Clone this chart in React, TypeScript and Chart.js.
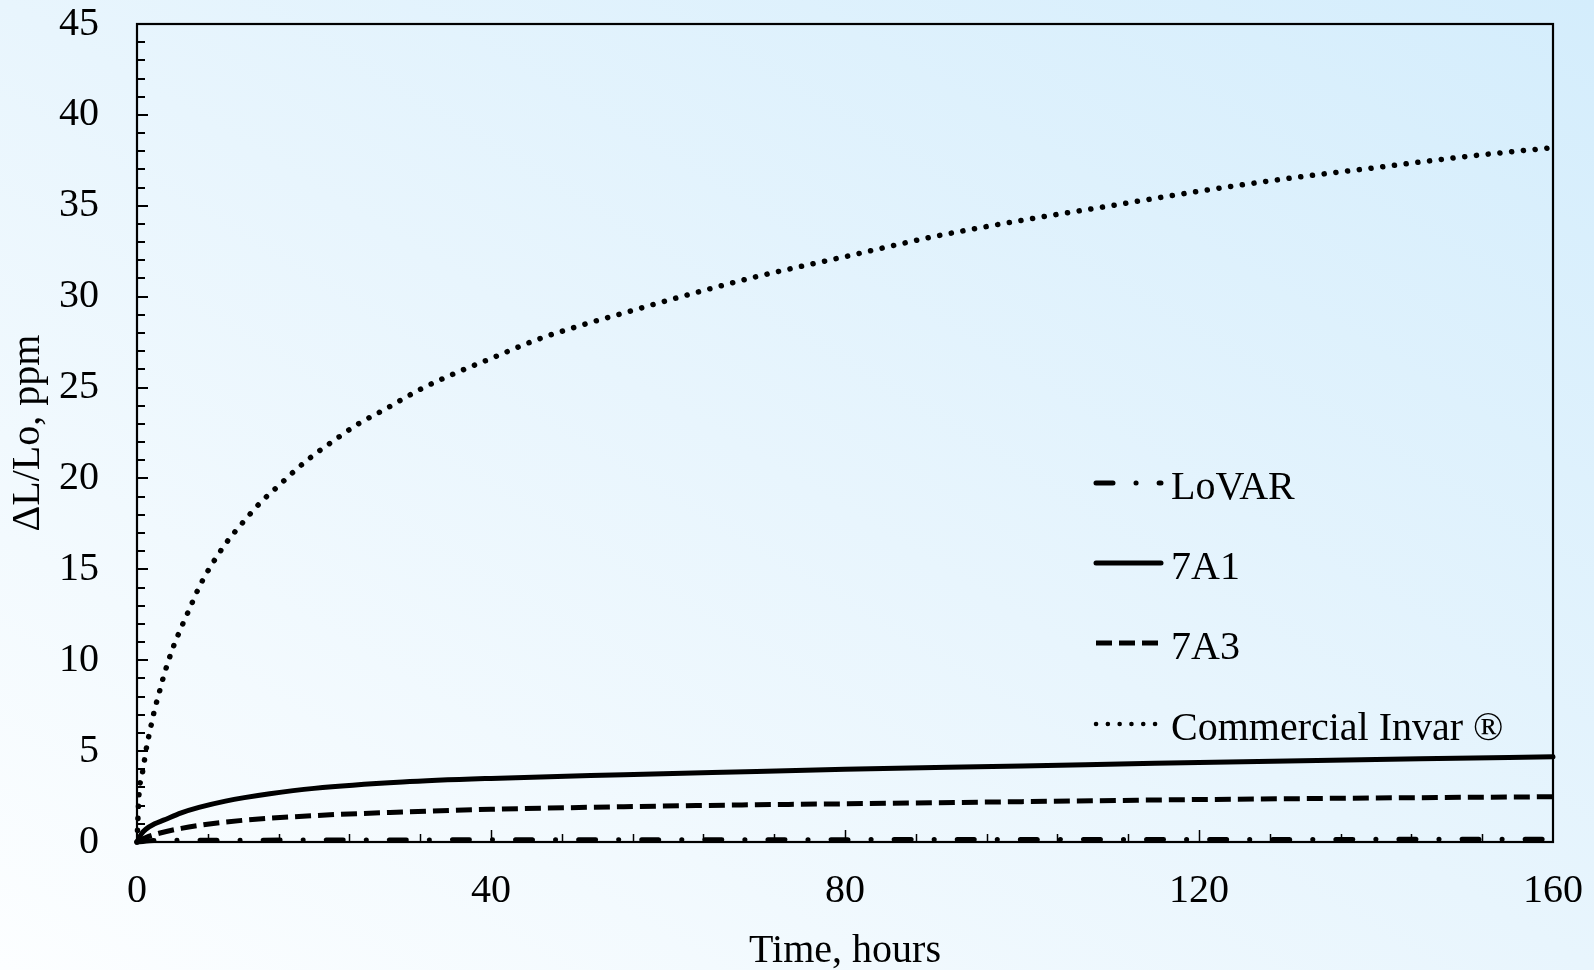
import React, { useEffect, useRef } from "react";
import { Chart, registerables } from "chart.js";

Chart.register(...registerables);

// ---- data ----
const lovarHours = [0, 2, 10, 40, 80, 120, 160];
const lovarValues = [0, 0.08, 0.1, 0.12, 0.13, 0.14, 0.15];

const a1Hours = [0, 0.5, 1, 2, 3, 5, 7, 10, 15, 20, 30, 40, 55, 70, 80, 100, 115, 130, 145, 160];
const a1Values = [0, 0.45, 0.7, 1.0, 1.2, 1.6, 1.9, 2.25, 2.65, 2.95, 3.3, 3.5, 3.7, 3.88, 4.0, 4.18, 4.33, 4.46, 4.58, 4.69];

const a3Hours = [0, 1, 2.5, 5, 10, 20, 30, 40, 55, 70, 80, 100, 115, 130, 145, 160];
const a3Values = [0, 0.25, 0.48, 0.75, 1.1, 1.45, 1.65, 1.8, 1.94, 2.05, 2.1, 2.22, 2.31, 2.38, 2.44, 2.49];

const invarHours = [0, 0.25, 0.5, 0.75, 1, 1.5, 2, 2.5, 3, 4, 5, 6, 7, 8, 10, 12, 14, 16, 18, 20, 22, 25, 28, 32, 36, 40, 45, 50, 55, 60, 70, 80, 90, 100, 110, 120, 130, 140, 150, 160];
const invarValues = [0, 2.8, 3.5, 4.2, 5.0, 6.2, 7.3, 8.2, 9.1, 10.6, 11.8, 12.9, 14.0, 14.9, 16.4, 17.6, 18.7, 19.6, 20.5, 21.3, 22.0, 23.0, 23.8, 24.9, 25.8, 26.6, 27.6, 28.4, 29.1, 29.8, 31.1, 32.2, 33.3, 34.2, 35.0, 35.8, 36.5, 37.1, 37.7, 38.2];

const seriesNames = ["LoVAR", "7A1", "7A3", "Commercial Invar \u00AE"];
const xTitle = "Time, hours";
const yTitle = "\u0394L/Lo, ppm";

const FONT = "'Liberation Serif', 'Times New Roman', serif";

const toPoints = (xs: number[], ys: number[]) => xs.map((x, i) => ({ x, y: ys[i] }));

const styles = [
  { dash: [17, 23, 0.1, 23], cap: "round", width: 5, legendWidth: 5 },
  { dash: [], cap: "round", width: 5, legendWidth: 5 },
  { dash: [16, 7], cap: "butt", width: 5, legendWidth: 5 },
  { dash: [0.1, 11.7], cap: "round", width: 5.5, legendWidth: 4.5 },
];

const zeroPad = (s: any) => {
  s.paddingTop = 0;
  s.paddingBottom = 0;
  s.paddingLeft = 0;
  s.paddingRight = 0;
};

const framePlugin = {
  id: "frameTicks",
  afterDatasetsDraw(chart: any) {
    const { ctx, chartArea: a, scales } = chart;
    const xs = scales.x;
    const ys = scales.y;
    ctx.save();
    ctx.strokeStyle = "#000";
    ctx.lineWidth = 2;
    for (let v = 1; v < 45; v++) {
      const y = Math.round(ys.getPixelForValue(v));
      const len = v % 5 === 0 ? 11 : 8;
      ctx.beginPath();
      ctx.moveTo(a.left, y);
      ctx.lineTo(a.left + len, y);
      ctx.stroke();
    }
    ctx.lineWidth = 1.5;
    for (let t = 8; t < 160; t += 8) {
      const x = Math.round(xs.getPixelForValue(t)) + 0.5;
      const len = t % 40 === 0 ? 12 : 8;
      ctx.beginPath();
      ctx.moveTo(x, a.bottom);
      ctx.lineTo(x, a.bottom - len);
      ctx.stroke();
    }
    ctx.lineWidth = 2.2;
    ctx.strokeRect(a.left, a.top, a.right - a.left, a.bottom - a.top);
    ctx.restore();
  },
};

const legendPlugin = {
  id: "customLegend",
  afterDraw(chart: any) {
    const { ctx } = chart;
    const rows = [483, 563, 643, 724];
    const x0 = 1096;
    const x1 = 1161;
    ctx.save();
    seriesNames.forEach((name, i) => {
      const s = styles[i];
      const y = rows[i];
      ctx.strokeStyle = "#000";
      ctx.lineWidth = s.legendWidth;
      ctx.lineCap = s.cap;
      ctx.setLineDash(s.dash);
      ctx.beginPath();
      ctx.moveTo(x0, y);
      ctx.lineTo(x1, y);
      ctx.stroke();
      ctx.setLineDash([]);
      ctx.fillStyle = "#000";
      ctx.font = `40px ${FONT}`;
      ctx.textBaseline = "alphabetic";
      ctx.textAlign = "left";
      ctx.fillText(name, 1171, y + 15.5);
    });
    ctx.restore();
  },
};

export default function App() {
  const ref = useRef<HTMLCanvasElement | null>(null);

  useEffect(() => {
    if (!ref.current) return;
    Chart.defaults.font.family = FONT;
    const data = [
      toPoints(lovarHours, lovarValues),
      toPoints(a1Hours, a1Values),
      toPoints(a3Hours, a3Values),
      toPoints(invarHours, invarValues),
    ];
    const chart = new Chart(ref.current, {
      type: "scatter",
      data: {
        datasets: seriesNames.map((name, i) => ({
          label: name,
          data: data[i],
          showLine: true,
          borderColor: "#000",
          backgroundColor: "#000",
          borderWidth: styles[i].width,
          borderDash: styles[i].dash,
          borderCapStyle: styles[i].cap as any,
          pointRadius: 0,
          cubicInterpolationMode: "monotone" as const,
          clip: 6,
        })),
      },
      plugins: [framePlugin, legendPlugin],
      options: {
        animation: false,
        responsive: true,
        maintainAspectRatio: false,
        layout: { autoPadding: false, padding: { top: 24, right: 41, left: 0, bottom: 0 } },
        plugins: { legend: { display: false }, tooltip: { enabled: false } },
        scales: {
          x: {
            type: "linear",
            min: 0,
            max: 160,
            afterFit: (s: any) => {
              s.height = 128;
              zeroPad(s);
            },
            ticks: {
              stepSize: 40,
              color: "#000",
              padding: 25,
              font: { size: 40, family: FONT },
              maxRotation: 0,
            },
            grid: { display: false, drawTicks: false },
            border: { display: false },
            title: {
              display: true,
              text: xTitle,
              color: "#000",
              font: { size: 40, family: FONT, lineHeight: 0.92 },
              padding: 0,
            },
          },
          y: {
            type: "linear",
            min: 0,
            max: 45,
            afterFit: (s: any) => {
              s.width = 137;
              zeroPad(s);
            },
            ticks: {
              stepSize: 5,
              color: "#000",
              padding: 38,
              font: { size: 40, family: FONT },
            },
            grid: { display: false, drawTicks: false },
            border: { display: false },
            title: {
              display: true,
              text: yTitle,
              color: "#000",
              font: { size: 40, family: FONT },
              padding: { top: 4, bottom: 0 },
            },
          },
        },
      },
    });
    return () => chart.destroy();
  }, []);

  return (
    <div
      style={{
        position: "fixed",
        left: 0,
        top: 0,
        width: 1594,
        height: 970,
        background: "linear-gradient(to top right, #fcfeff 0%, #e8f5fd 50%, #d4edfc 100%)",
      }}
    >
      <canvas ref={ref} />
    </div>
  );
}
